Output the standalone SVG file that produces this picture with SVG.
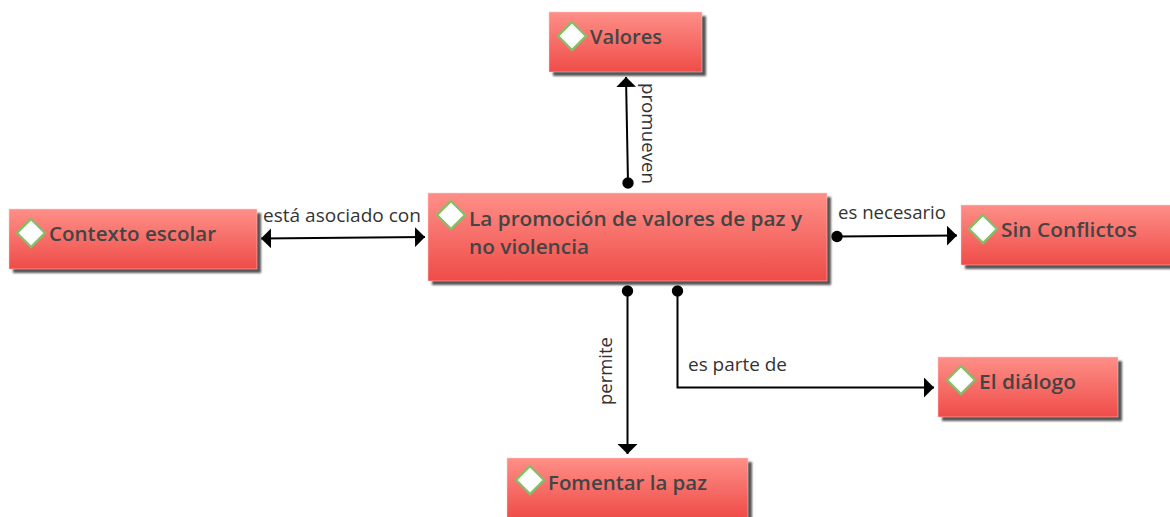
<svg xmlns="http://www.w3.org/2000/svg" width="1170" height="517" viewBox="0 0 1170 517">
<style>
.box{fill:url(#g);stroke:#fcc;stroke-width:.5}
.sh{fill:#555;filter:url(#b)}
.dia{fill:url(#w);stroke:#86bd68;stroke-width:2.400}
.t{font-family:"Open Sans","Noto Sans",sans-serif;font-weight:600;font-size:20.500px;fill:#444}
.l{font-family:"Open Sans","Noto Sans",sans-serif;font-size:18.500px;fill:#333}
.c{fill:none;stroke:#000;stroke-width:2}
</style>
<defs>
<linearGradient id="g" x1="0" y1="0" x2="0" y2="1"><stop offset="0" stop-color="#fe8f88"/><stop offset="1" stop-color="#ef4c48"/></linearGradient>
<radialGradient id="w"><stop offset="0.6" stop-color="#fff"/><stop offset="1" stop-color="#eef5e8"/></radialGradient>
<filter id="b" x="-5%" y="-10%" width="110%" height="120%"><feGaussianBlur stdDeviation="1.300"/></filter>
<marker id="a" markerUnits="userSpaceOnUse" markerWidth="20" markerHeight="20" refX="10" refY="10" orient="auto"><path d="M0 0L10 10L0 20Z" fill="#000"/></marker>
<marker id="ar" markerUnits="userSpaceOnUse" markerWidth="20" markerHeight="20" refX="10" refY="10" orient="auto-start-reverse"><path d="M0 0L10 10L0 20Z" fill="#000"/></marker>
<marker id="d" markerUnits="userSpaceOnUse" markerWidth="14" markerHeight="14" refX="7" refY="7"><circle cx="7" cy="7" r="5.700" fill="#000"/></marker>
</defs>
<g id="connectors">
<path class="c" d="M628 183L626 77" marker-start="url(#d)" marker-end="url(#a)"/>
<path class="c" d="M261 238.500L425 237" marker-start="url(#ar)" marker-end="url(#a)"/>
<path class="c" d="M837 236.500L957 235.500" marker-start="url(#d)" marker-end="url(#a)"/>
<path class="c" d="M627.500 291V454" marker-start="url(#d)" marker-end="url(#a)"/>
<path class="c" d="M677.500 291V387.500H934" marker-start="url(#d)" marker-end="url(#a)"/>
<text class="l" transform="translate(642,83) rotate(90)" textLength="101" lengthAdjust="spacingAndGlyphs">promueven</text>
<text class="l" x="263" y="222" textLength="158" lengthAdjust="spacingAndGlyphs">está asociado con</text>
<text class="l" x="838" y="219" textLength="108" lengthAdjust="spacingAndGlyphs">es necesario</text>
<text class="l" transform="translate(612,405) rotate(-90)" textLength="68" lengthAdjust="spacingAndGlyphs">permite</text>
<text class="l" x="688" y="371" textLength="99" lengthAdjust="spacingAndGlyphs">es parte de</text>
</g>
<g id="n-valores"><rect class="sh" x="553" y="16" width="153" height="60"/><rect class="box" x="549" y="12" width="153" height="60"/><path class="dia" d="M572 22L586 36L572 50L558 36Z"/><text class="t" x="590" y="44" textLength="72" lengthAdjust="spacingAndGlyphs">Valores</text></g>
<g id="n-contexto"><rect class="sh" x="13" y="213" width="248" height="60"/><rect class="box" x="9" y="209" width="248" height="60"/><path class="dia" d="M31 219L45 233L31 247L17 233Z"/><text class="t" x="49" y="241" textLength="167" lengthAdjust="spacingAndGlyphs">Contexto escolar</text></g>
<g id="n-central"><rect class="sh" x="432" y="197" width="399" height="88"/><rect class="box" x="428" y="193" width="399" height="88"/><path class="dia" d="M451 201L465 215L451 229L437 215Z"/><text class="t"><tspan x="469" y="226" textLength="333" lengthAdjust="spacingAndGlyphs">La promoción de valores de paz y</tspan><tspan x="469" y="254" textLength="120" lengthAdjust="spacingAndGlyphs">no violencia</tspan></text></g>
<g id="n-sin"><rect class="sh" x="965" y="209" width="209" height="60"/><rect class="box" x="961" y="205" width="210" height="60"/><path class="dia" d="M983 215L997 229L983 243L969 229Z"/><text class="t" x="1001" y="237" textLength="136" lengthAdjust="spacingAndGlyphs">Sin Conflictos</text></g>
<g id="n-fomentar"><rect class="sh" x="511" y="462" width="241" height="60"/><rect class="box" x="507" y="458" width="241" height="60"/><path class="dia" d="M530 466L544 480L530 494L516 480Z"/><text class="t" x="548" y="490" textLength="159" lengthAdjust="spacingAndGlyphs">Fomentar la paz</text></g>
<g id="n-dialogo"><rect class="sh" x="942" y="361" width="180" height="60"/><rect class="box" x="938" y="357" width="180" height="60"/><path class="dia" d="M961 366L975 380L961 394L947 380Z"/><text class="t" x="979" y="389" textLength="97" lengthAdjust="spacingAndGlyphs">El diálogo</text></g>
</svg>
